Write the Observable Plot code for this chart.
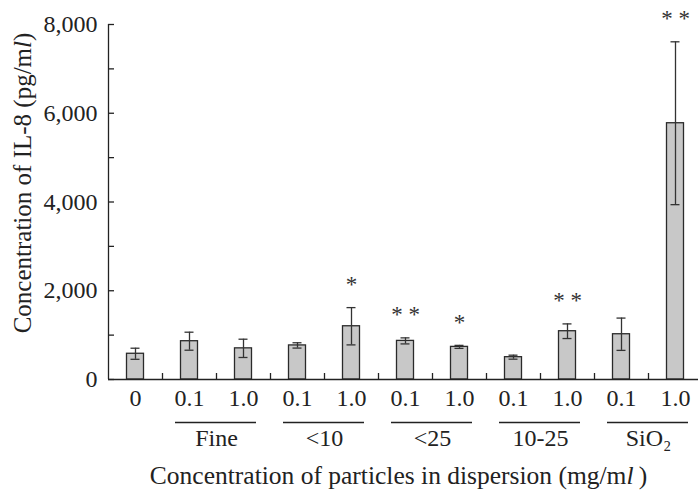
<!DOCTYPE html>
<html><head><meta charset="utf-8">
<script src="https://cdn.jsdelivr.net/npm/d3@7"></script>
<script src="https://cdn.jsdelivr.net/npm/@observablehq/plot@0.6"></script>
<style>
body{margin:0;background:#fff}
svg, svg text, svg tspan{font-family:"Liberation Serif", "Times New Roman", Times, serif !important}
</style>
</head><body><div id="chart"></div>
<script>
// ---- data ----
const categories = ["0","Fine 0.1","Fine 1.0","<10 0.1","<10 1.0","<25 0.1","<25 1.0","10-25 0.1","10-25 1.0","SiO2 0.1","SiO2 1.0"];
const doseLabels = ["0","0.1","1.0","0.1","1.0","0.1","1.0","0.1","1.0","0.1","1.0"];
const means  = [580, 863, 702, 768, 1200, 870, 735, 503, 1088, 1020, 5775];
const errors = [125, 203, 206, 60, 420, 68, 34, 45, 165, 364, 1835];
const stars  = ["", "", "", "", "*", "* *", "*", "", "* *", "", "* *"];
const groupNames = ["Fine", "<10", "<25", "10-25", "SiO\u2082"];
const groupStart = ["Fine 0.1", "<10 0.1", "<25 0.1", "10-25 0.1", "SiO2 0.1"];
const groupEnd   = ["Fine 1.0", "<10 1.0", "<25 1.0", "10-25 1.0", "SiO2 1.0"];
const yTicks = [0, 1000, 2000, 3000, 4000, 5000, 6000, 7000, 8000];
const yLabelTicks = [0, 2000, 4000, 6000, 8000];
const yTitle = "Concentration of IL-8 (pg/ml)";
const xTitle = "Concentration of particles in dispersion (mg/ml)";

const data = categories.map((c, i) => ({cat: c, dose: doseLabels[i], mean: means[i], err: errors[i], star: stars[i]}));
const groups = groupNames.map((g, i) => ({name: g, first: groupStart[i], last: groupEnd[i]}));

const ink = "#222";
const fmt = d3.format(",");

const chart = Plot.plot({
  width: 698, height: 498,
  marginLeft: 108, marginRight: 0, marginTop: 24, marginBottom: 119,
  style: {fontSize: "24px", color: ink, background: "#fff", overflow: "visible"},
  x: {domain: categories, range: [108, 702], padding: 0, axis: null},
  y: {domain: [0, 8000], axis: null},
  marks: [
    Plot.barY(data, {x: "cat", y: "mean", fill: "#c8c8c8", stroke: "#2a2a2a", strokeWidth: 1.3, insetLeft: 18.5, insetRight: 18.5}),
    Plot.ruleX(data, {x: "cat", y1: d => d.mean - d.err, y2: d => d.mean + d.err, stroke: "#333", strokeWidth: 1.3}),
    Plot.tickY(data, {x: "cat", y: d => d.mean + d.err, insetLeft: 22.5, insetRight: 22.5, stroke: "#333", strokeWidth: 1.3}),
    Plot.tickY(data, {x: "cat", y: d => d.mean - d.err, insetLeft: 22.5, insetRight: 22.5, stroke: "#333", strokeWidth: 1.3}),
    Plot.text(data.filter(d => d.star), {x: "cat", y: d => d.mean + d.err, text: "star", dy: -23, fontSize: 23, fill: "#333"}),
    // axes lines
    Plot.ruleY([0], {y: d => d, stroke: ink, strokeWidth: 1.3}),
    Plot.ruleX([categories[0]], {x: d => d, y1: () => 0, y2: () => 8000, dx: -27, stroke: ink, strokeWidth: 1.3}),
    // inward ticks
    Plot.tickY(yTicks, {y: d => d, insetRight: 584, stroke: ink, strokeWidth: 1.3}),
    Plot.ruleX(categories.slice(1), {x: d => d, y1: () => 0, y2: () => 0, insetTop: -6, dx: -27, stroke: ink, strokeWidth: 1.3}),
    // y tick labels
    Plot.text(yLabelTicks, {y: d => d, text: d => fmt(d), frameAnchor: "left", textAnchor: "end", dx: -11, fontSize: 24, fill: ink}),
    // x dose labels
    Plot.text(data, {x: "cat", text: "dose", frameAnchor: "bottom", dy: 26, fontSize: 24, fill: ink}),
    // group underlines and labels
    Plot.ruleY(groups, {x1: "first", x2: "last", y: () => 0, dy: 43, insetLeft: 13, insetRight: 14, stroke: ink, strokeWidth: 1.3}),
    Plot.text(groups, {x: "first", text: "name", frameAnchor: "bottom", dx: 27, dy: 66, fontSize: 24, fill: ink}),
    // titles
    Plot.text([yTitle], {text: d => d, frameAnchor: "left", textAnchor: "middle", rotate: -90, dx: -86, dy: -19, fontSize: 25, fill: ink}),
    Plot.text([xTitle], {text: d => d, frameAnchor: "bottom", textAnchor: "middle", dx: -5, dy: 104, fontSize: 25.5, fill: ink})
  ]
});

// italic "l" in the unit "ml"
chart.querySelectorAll("text").forEach(t => {
  const s = t.textContent;
  if (s === yTitle || s === xTitle) {
    const head = s.slice(0, -2);
    t.textContent = "";
    const a = document.createElementNS("http://www.w3.org/2000/svg", "tspan");
    a.textContent = head;
    const b = document.createElementNS("http://www.w3.org/2000/svg", "tspan");
    b.textContent = "l";
    b.setAttribute("font-style", "italic");
    const c = document.createElementNS("http://www.w3.org/2000/svg", "tspan");
    c.textContent = s === xTitle ? "\u2009)" : ")";
    t.append(a, b, c);
  }
});

document.getElementById("chart").append(chart);
</script>
</body></html>
